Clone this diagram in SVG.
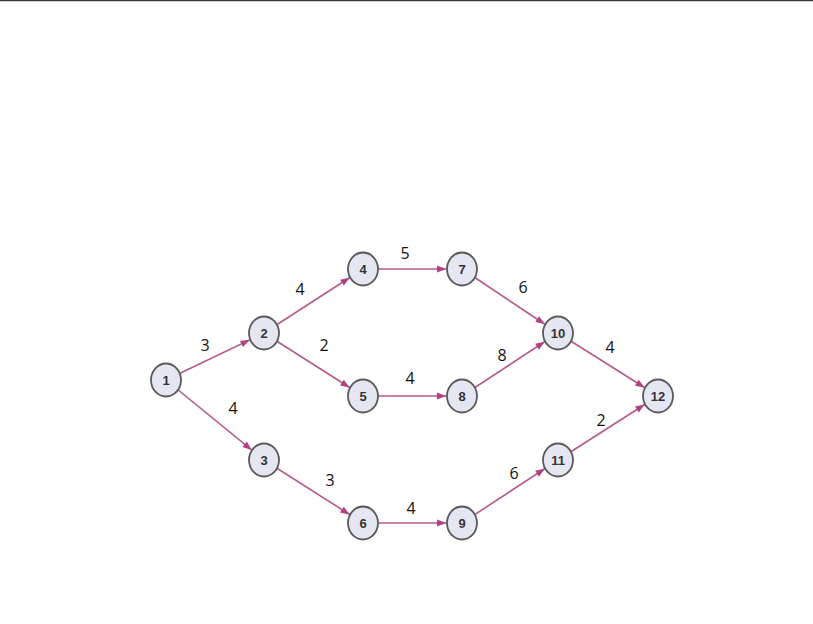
<svg xmlns="http://www.w3.org/2000/svg" width="813" height="624" viewBox="0 0 813 624">
<defs>
<marker id="arr" markerUnits="userSpaceOnUse" markerWidth="10" markerHeight="8" refX="25" refY="3.5" orient="auto" overflow="visible">
<path d="M0,0 L9,3.5 L0,7 z" fill="#b0407e"/>
</marker>
<style>
.e{stroke:#b65a8c;stroke-width:1.6;fill:none;marker-end:url(#arr)}
.n ellipse{fill:#e4e6f2;stroke:#5a5a5a;stroke-width:1.8}
.n text{font-family:"Liberation Sans",Arial,sans-serif;font-size:13px;font-weight:bold;fill:#333;text-anchor:middle}
.w{font-family:"Open Sans","Liberation Sans",sans-serif;font-size:16px;fill:#111;text-anchor:middle}
</style>
</defs>
<rect width="813" height="624" fill="#fff"/>
<line x1="0" y1="0.5" x2="813" y2="0.5" stroke="#3a3d40" stroke-width="1.5"/>
<g id="connectors">
<line class="e" x1="166" y1="380" x2="264" y2="333"/>
<line class="e" x1="166" y1="380" x2="264" y2="460"/>
<line class="e" x1="264" y1="333" x2="363" y2="269"/>
<line class="e" x1="264" y1="333" x2="363" y2="396"/>
<line class="e" x1="363" y1="269" x2="462" y2="269"/>
<line class="e" x1="363" y1="396" x2="462" y2="396"/>
<line class="e" x1="462" y1="269" x2="558" y2="333"/>
<line class="e" x1="462" y1="396" x2="558" y2="333"/>
<line class="e" x1="558" y1="333" x2="658" y2="396"/>
<line class="e" x1="264" y1="460" x2="363" y2="523"/>
<line class="e" x1="363" y1="523" x2="462" y2="523"/>
<line class="e" x1="462" y1="523" x2="558" y2="460"/>
<line class="e" x1="558" y1="460" x2="658" y2="396"/>
</g>
<g id="labels">
<text class="w" x="205" y="351">3</text>
<text class="w" x="300" y="295">4</text>
<text class="w" x="324" y="351">2</text>
<text class="w" x="233" y="414">4</text>
<text class="w" x="405" y="259">5</text>
<text class="w" x="523" y="293">6</text>
<text class="w" x="502" y="361">8</text>
<text class="w" x="410" y="384">4</text>
<text class="w" x="610" y="353">4</text>
<text class="w" x="601" y="426">2</text>
<text class="w" x="330" y="486">3</text>
<text class="w" x="514" y="479">6</text>
<text class="w" x="411" y="514">4</text>
</g>
<g id="n1" class="n"><ellipse cx="166" cy="380" rx="15" ry="16.5"/><text x="166" y="385">1</text></g>
<g id="n2" class="n"><ellipse cx="264" cy="333" rx="15" ry="16.5"/><text x="264" y="338">2</text></g>
<g id="n3" class="n"><ellipse cx="264" cy="460" rx="15" ry="16.5"/><text x="264" y="465">3</text></g>
<g id="n4" class="n"><ellipse cx="363" cy="269" rx="15" ry="16.5"/><text x="363" y="274">4</text></g>
<g id="n5" class="n"><ellipse cx="363" cy="396" rx="15" ry="16.5"/><text x="363" y="401">5</text></g>
<g id="n6" class="n"><ellipse cx="363" cy="523" rx="15" ry="16.5"/><text x="363" y="528">6</text></g>
<g id="n7" class="n"><ellipse cx="462" cy="269" rx="15" ry="16.5"/><text x="462" y="274">7</text></g>
<g id="n8" class="n"><ellipse cx="462" cy="396" rx="15" ry="16.5"/><text x="462" y="401">8</text></g>
<g id="n9" class="n"><ellipse cx="462" cy="523" rx="15" ry="16.5"/><text x="462" y="528">9</text></g>
<g id="n10" class="n"><ellipse cx="558" cy="333" rx="15" ry="16.5"/><text x="558" y="338">10</text></g>
<g id="n11" class="n"><ellipse cx="558" cy="460" rx="15" ry="16.5"/><text x="558" y="465">11</text></g>
<g id="n12" class="n"><ellipse cx="658" cy="396" rx="15" ry="16.5"/><text x="658" y="401">12</text></g>
</svg>
